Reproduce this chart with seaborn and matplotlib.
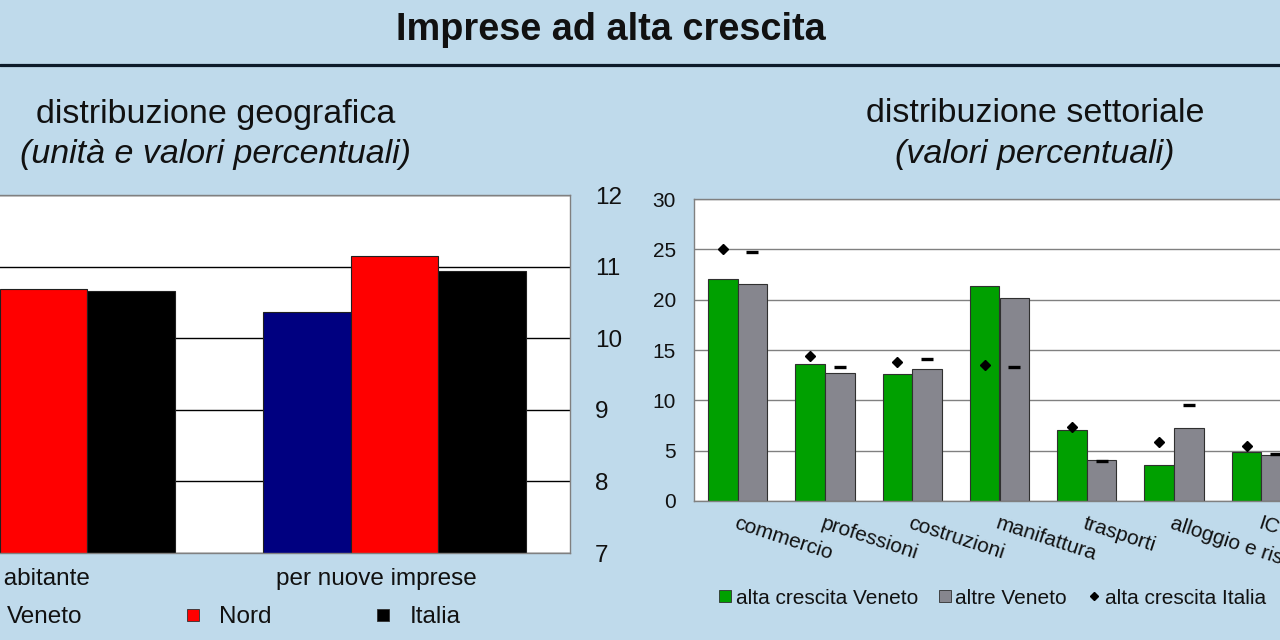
import numpy as np
import pandas as pd
import matplotlib
matplotlib.use("Agg")
import matplotlib.pyplot as plt
import matplotlib.transforms as mtransforms
from matplotlib.lines import Line2D
import seaborn as sns

# ---------------- data ----------------
geo_groups = ["per abitante", "per nuove imprese"]
geo_series = ["Veneto", "Nord", "Italia"]
geo_veneto = [10.2, 10.37]
geo_nord = [10.69, 11.15]
geo_italia = [10.66, 10.94]
geo_ticks = [7, 8, 9, 10, 11, 12]

sectors = ["commercio", "professioni", "costruzioni", "manifattura",
           "trasporti", "alloggio e ristorazione", "ICT"]
sect_series = ["alta crescita Veneto", "altre Veneto"]
alta_veneto = [22.1, 13.6, 12.6, 21.4, 7.1, 3.6, 4.9]
altre_veneto = [21.6, 12.7, 13.1, 20.2, 4.1, 7.3, 4.6]
alta_italia = [25.0, 14.4, 13.8, 13.5, 7.4, 5.9, 5.5]
altre_italia = [24.7, 13.3, 14.1, 13.3, 4.0, 9.5, 4.7]
sect_ticks = [0, 5, 10, 15, 20, 25, 30]

# ---------------- style ----------------
BG = "#bfdaeb"
GEO_COLORS = {"Veneto": "#000080", "Nord": "#ff0000", "Italia": "#000000"}
SECT_COLORS = {"alta crescita Veneto": "#00a000", "altre Veneto": "#86868e"}

sns.set_theme(style="white")
plt.rcParams["font.family"] = ["Liberation Sans", "DejaVu Sans"]

fig = plt.figure(figsize=(12.8, 6.4), dpi=100, facecolor=BG)
W, H = 1280, 640

# ---------------- titles ----------------
fig.text(611 / W, 1 - 30 / H, "Imprese ad alta crescita", ha="center", va="center",
         fontsize=27.3, fontweight="bold", color="#111111")
fig.add_artist(Line2D([0, 1], [1 - 64.5 / H, 1 - 64.5 / H], transform=fig.transFigure,
                      color="#0d1b2a", lw=2.3))
fig.text(216 / W, 1 - 114 / H, "distribuzione geografica", ha="center", va="center",
         fontsize=24.5, color="#111111")
fig.text(216 / W, 1 - 155 / H, "(unità e valori percentuali)", ha="center", va="center",
         fontsize=24.5, style="italic", color="#111111")
fig.text(1035 / W, 1 - 114 / H, "distribuzione settoriale", ha="center", va="center",
         fontsize=24.5, color="#111111")
fig.text(1035 / W, 1 - 155 / H, "(valori percentuali)", ha="center", va="center",
         fontsize=24.5, style="italic", color="#111111")

# ---------------- left chart ----------------
geo_df = pd.DataFrame({
    "gruppo": geo_groups * 3,
    "serie": np.repeat(geo_series, len(geo_groups)),
    "valore": geo_veneto + geo_nord + geo_italia,
})
ax1 = fig.add_axes([-132 / W, 1 - 553 / H, 702 / W, (553 - 195) / H])
ax1.set_facecolor("white")
sns.barplot(data=geo_df, x="gruppo", y="valore", hue="serie", hue_order=geo_series,
            order=geo_groups, palette=GEO_COLORS, width=0.75, saturation=1,
            edgecolor="#202020", linewidth=0.8, legend=False, ax=ax1)
ax1.set_xlim(-0.5, 1.5)
ax1.set_ylim(7, 12)
ax1.set_yticks(geo_ticks)
ax1.yaxis.tick_right()
ax1.set_axisbelow(True)
ax1.yaxis.grid(True, color="#000000", lw=1)
ax1.tick_params(axis="y", labelsize=17.5, pad=18, length=0, labelcolor="#111111")
ax1.tick_params(axis="x", labelsize=17.5, pad=11, length=0, labelcolor="#111111")
ax1.set_xlabel("")
ax1.set_ylabel("")
for s in ax1.spines.values():
    s.set_color("#808080")
    s.set_linewidth(1)
off = mtransforms.ScaledTranslation(-18 / 100, 0, fig.dpi_scale_trans)
for lab in ax1.get_xticklabels():
    lab.set_transform(lab.get_transform() + off)

geo_handles = [Line2D([], [], ls="none", marker="s", ms=9, mfc=GEO_COLORS[k],
                      mec="#303030", mew=0.6, label=k) for k in geo_series]
fig.legend(handles=geo_handles, ncol=3, frameon=False, fontsize=17.5,
           loc="center", bbox_to_anchor=(214 / W, 1 - 617 / H), borderaxespad=0,
           borderpad=0, handlelength=1.0, handletextpad=0.6, columnspacing=4.05,
           labelcolor="#111111")

# ---------------- right chart ----------------
sect_df = pd.DataFrame({
    "settore": sectors * 2,
    "serie": np.repeat(sect_series, len(sectors)),
    "valore": alta_veneto + altre_veneto,
})
ax2 = fig.add_axes([694 / W, 1 - 501 / H, 611 / W, 302 / H])
ax2.set_facecolor("white")
sns.barplot(data=sect_df, x="settore", y="valore", hue="serie", hue_order=sect_series,
            order=sectors, palette=SECT_COLORS, width=0.68, saturation=1,
            edgecolor="#303030", linewidth=0.8, legend=False, ax=ax2)
x_green = [p.get_x() + p.get_width() / 2 for p in ax2.containers[0]]
x_gray = [p.get_x() + p.get_width() / 2 for p in ax2.containers[1]]
ax2.plot(x_green, alta_italia, ls="none", marker="D", ms=4.8, color="black", zorder=5)
ax2.plot(x_gray, altre_italia, ls="none", marker="_", ms=8.2, mew=2.4, color="black", zorder=5)
ax2.set_xlim(-0.5, len(sectors) - 0.5)
ax2.set_ylim(0, 30)
ax2.set_yticks(sect_ticks)
ax2.set_axisbelow(True)
ax2.yaxis.grid(True, color="#808080", lw=1)
ax2.tick_params(axis="y", labelsize=15, pad=13, length=0, labelcolor="#111111")
ax2.tick_params(axis="x", labelsize=15, pad=9, length=0, labelcolor="#111111")
ax2.set_xlabel("")
ax2.set_ylabel("")
for s in ax2.spines.values():
    s.set_color("#808080")
    s.set_linewidth(1)
for lab in ax2.get_xticklabels():
    lab.set_rotation(-18)
    lab.set_ha("left")
    lab.set_va("top")
    lab.set_rotation_mode("anchor")

sect_handles = [
    Line2D([], [], ls="none", marker="s", ms=8.5, mfc=SECT_COLORS["alta crescita Veneto"],
           mec="#303030", mew=0.6, label="alta crescita Veneto"),
    Line2D([], [], ls="none", marker="s", ms=8.5, mfc=SECT_COLORS["altre Veneto"],
           mec="#303030", mew=0.6, label="altre Veneto"),
    Line2D([], [], ls="none", marker="D", ms=4.5, color="black", label="alta crescita Italia"),
    Line2D([], [], ls="none", marker="_", ms=8, mew=2.4, color="black", label="altre Italia"),
]
fig.legend(handles=sect_handles, ncol=4, frameon=False, fontsize=15,
           loc="center left", bbox_to_anchor=(718 / W, 1 - 598 / H), borderaxespad=0,
           borderpad=0, handlelength=0.7, handletextpad=0.15, columnspacing=0.95,
           labelcolor="#111111")

fig.savefig("out.png", dpi=100, facecolor=BG)
